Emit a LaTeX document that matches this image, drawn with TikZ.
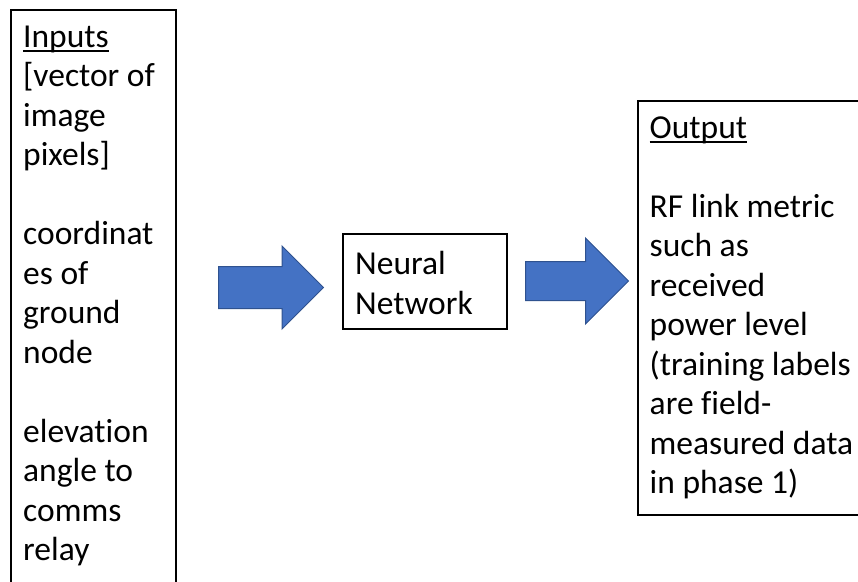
\documentclass[tikz,border=0pt]{standalone}
\usepackage{fontspec}
\setmainfont{Carlito}[Ligatures=CommonOff]
\usetikzlibrary{shapes.arrows}
\definecolor{arrowblue}{HTML}{4472C4}
\definecolor{arrowedge}{HTML}{2F528F}
\newcommand\ulinetext[1]{\setbox0\hbox{#1}\rlap{\rule[-5pt]{\wd0}{1.6pt}}\box0}

\begin{document}
\begin{tikzpicture}[x=1pt, y=-1pt,
	panel/.style={draw=black, line width=1.6pt, anchor=north west, inner sep=0pt},
	label/.style={anchor=base west, align=left, inner sep=0pt, font=\fontsize{33.5}{39.5}\selectfont},
	blockarrow/.style={single arrow, fill=arrowblue, draw=arrowedge, line width=1pt, anchor=tail, inner xsep=0pt}]
			%%%%% START %%%%%
			
			\clip (0, 0) rectangle (858, 581);
			
			% base of each text block is its last line
			\node[panel, minimum width=165pt, minimum height=620pt] (inbox) at (10, 9) {};
			\node[label] (intext) at (23, 560.5) {\ulinetext{Inputs}\\{[}vector of\\image\\pixels]\\[39.5pt]coordinat\\es of\\ground\\node\\[39.5pt]elevation\\angle to\\comms\\relay};
			
			\node[blockarrow, minimum height=105pt, inner ysep=20.5pt, single arrow head extend=20.5pt] (inarrow) at (218, 287.5) {};
			
			\node[panel, minimum width=164pt, minimum height=95pt] (nnbox) at (342, 233) {};
			\node[label] (nntext) at (355, 314) {Neural\\Network};
			
			\node[blockarrow, minimum height=103pt, inner ysep=19pt, single arrow head extend=23.5pt] (outarrow) at (525, 281) {};
			
			\node[panel, minimum width=250pt, minimum height=414pt] (outbox) at (637, 100) {};
			\node[label] (outtext) at (649.5, 493.5) {\ulinetext{Output}\\[39.5pt]RF link metric\\such as\\received\\power level\\(training labels\\are field-\\measured data\\in phase 1)};
			
			%%%%% END %%%%%
\end{tikzpicture}
\end{document}
